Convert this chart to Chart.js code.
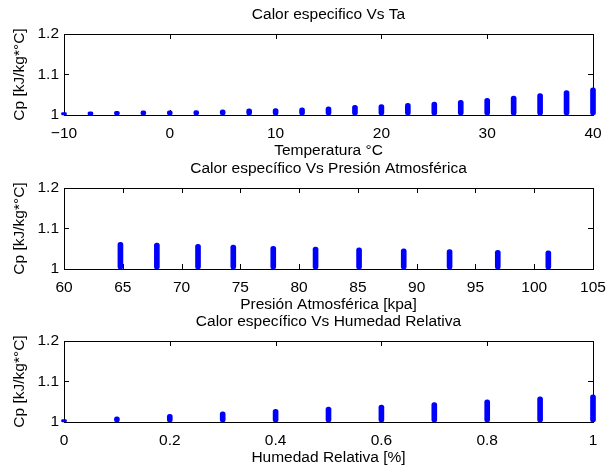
<!DOCTYPE html>
<html>
<head>
<meta charset="utf-8">
<title>Calor especifico</title>
<script src="https://cdn.jsdelivr.net/npm/chart.js@4.4.1/dist/chart.umd.min.js"></script>
<style>
  body { margin: 0; background: #fff; }
  canvas { position: absolute; left: 0; }
</style>
</head>
<body>
<canvas id="cpTa" width="607" height="160" style="top:0px"></canvas>
<canvas id="cpPatm" width="607" height="160" style="top:154px"></canvas>
<canvas id="cpHr" width="607" height="160" style="top:307px"></canvas>
<script>
// Cp columns start on the 1.0 line and rise to the value at each x
const cpBase = 1.0;

const tempC = [-10, -7.5, -5, -2.5, 0, 2.5, 5, 7.5, 10, 12.5, 15, 17.5, 20, 22.5, 25, 27.5, 30, 32.5, 35, 37.5, 40];
const cpTemp = [1.006, 1.008, 1.009, 1.010, 1.010, 1.011, 1.013, 1.015, 1.016, 1.018, 1.020, 1.024, 1.026, 1.029, 1.032, 1.036, 1.041, 1.047, 1.053, 1.060, 1.067];

const pressKpa = [64.8, 67.9, 71.4, 74.4, 77.8, 81.4, 85.1, 88.9, 92.8, 96.9, 101.2];
const cpPress = [1.066, 1.064, 1.061, 1.059, 1.056, 1.054, 1.052, 1.050, 1.048, 1.046, 1.045];

const humRel = [0, 0.1, 0.2, 0.3, 0.4, 0.5, 0.6, 0.7, 0.8, 0.9, 1.0];
const cpHum = [1.006, 1.013, 1.019, 1.025, 1.031, 1.037, 1.042, 1.048, 1.055, 1.062, 1.067];

const FS = 15.5;
Chart.defaults.color = '#000';
Chart.defaults.font = { family: '"Liberation Sans", Arial, sans-serif', size: FS };

// box round the plot area with short ticks pointing inward on all four sides
const boxPlugin = {
  id: 'boxPlugin',
  beforeDatasetsDraw(chart) {
    const { ctx, chartArea: a, scales } = chart;
    const len = 5;
    ctx.save();
    ctx.strokeStyle = '#000';
    ctx.lineWidth = 1;
    ctx.beginPath();
    scales.x.ticks.forEach(t => {
      const px = Math.round(scales.x.getPixelForValue(t.value)) + 0.5;
      ctx.moveTo(px, a.bottom); ctx.lineTo(px, a.bottom - len);
      ctx.moveTo(px, a.top); ctx.lineTo(px, a.top + len);
    });
    scales.y.ticks.forEach(t => {
      const py = Math.round(scales.y.getPixelForValue(t.value)) + 0.5;
      ctx.moveTo(a.left, py); ctx.lineTo(a.left + len, py);
      ctx.moveTo(a.right, py); ctx.lineTo(a.right - len, py);
    });
    ctx.stroke();
    ctx.strokeRect(Math.round(a.left) + 0.5, Math.round(a.top) + 0.5,
      Math.round(a.right - a.left), Math.round(a.bottom - a.top));
    ctx.restore();
  }
};

function makeChart(id, title, xTitle, xs, ys, xMin, xMax, xStep, xFmt) {
  return new Chart(document.getElementById(id), {
    type: 'bar',
    data: {
      datasets: [{
        data: xs.map((x, i) => ({ x: x, y: [cpBase, ys[i]] })),
        backgroundColor: '#0000ff',
        barThickness: 5,
        borderRadius: 2.5,
        borderSkipped: false,
        clip: false
      }]
    },
    options: {
      responsive: false,
      animation: false,
      devicePixelRatio: 1,
      layout: { padding: { left: 0, right: 14, top: 0, bottom: 0 } },
      plugins: {
        legend: { display: false },
        tooltip: { enabled: false }
      },
      scales: {
        // top axis only carries the plot title, centred over the plot area
        xTop: {
          type: 'linear',
          position: 'top',
          offset: false,
          min: xMin,
          max: xMax,
          grid: { display: false, drawTicks: false },
          border: { display: false },
          ticks: { display: false },
          title: { display: true, text: title, padding: { top: 5.7, bottom: 0 } },
          afterFit(scale) {
            scale.height = 34;
            scale.paddingLeft = 0;
            scale.paddingRight = 0;
          }
        },
        x: {
          type: 'linear',
          position: 'bottom',
          offset: false,
          min: xMin,
          max: xMax,
          grid: { display: false, drawTicks: false },
          border: { display: false },
          ticks: { stepSize: xStep, autoSkip: false, maxRotation: 0, padding: 9, callback: xFmt },
          title: { display: true, text: xTitle, padding: { top: 0, bottom: 0 } },
          afterFit(scale) {
            scale.height = 45;
            scale.paddingLeft = 0;
            scale.paddingRight = 0;
          }
        },
        y: {
          min: 1,
          max: 1.2,
          beginAtZero: false,
          grid: { display: false, drawTicks: false },
          border: { display: false },
          ticks: { stepSize: 0.1, padding: 5, callback: v => String(Math.round(v * 10) / 10) },
          title: { display: true, text: 'Cp [kJ/kg*°C]', padding: { top: 10.7, bottom: 0 } },
          afterFit(scale) {
            scale.width = 64;
            scale.paddingTop = 0;
            scale.paddingBottom = 0;
          }
        }
      }
    },
    plugins: [boxPlugin]
  });
}

makeChart('cpTa', 'Calor especifico Vs Ta', 'Temperatura °C', tempC, cpTemp, -10, 40, 10,
  v => String(v).replace('-', '\u2212'));
makeChart('cpPatm', 'Calor específico Vs Presión Atmosférica', 'Presión Atmosférica [kpa]', pressKpa, cpPress, 60, 105, 5,
  v => String(v));
makeChart('cpHr', 'Calor específico Vs Humedad Relativa', 'Humedad Relativa [%]', humRel, cpHum, 0, 1, 0.2,
  v => String(Math.round(v * 100) / 100));
</script>
</body>
</html>
